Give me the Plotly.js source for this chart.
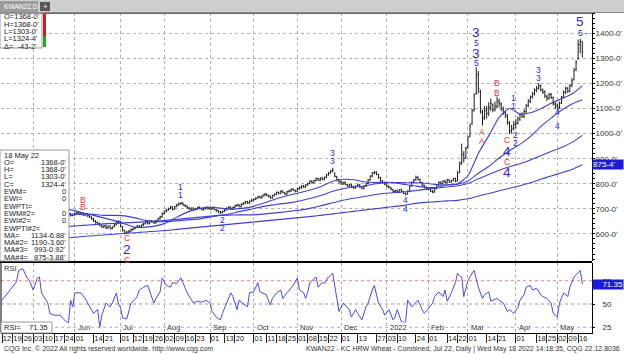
<!DOCTYPE html>
<html><head><meta charset="utf-8">
<script src="https://cdn.plot.ly/plotly-3.0.1.min.js"></script>
<style>html,body{margin:0;padding:0;background:#fff;overflow:hidden}#c{width:624px;height:354px}</style>
</head><body><div id="c"></div>
<script>
// ---------- DATA ----------
const startDate = '2021-04-12', endDate = '2022-05-18';
const holidays = ['2021-05-31','2021-07-05','2021-09-06','2021-11-25','2021-12-24','2022-01-17','2022-02-21','2022-04-15'];

const open = [
 608,613,619,626,636,643,651,647,657,665,673,683,691,703,695,
 707,713,723,737,745,739,725,715,703,691,683,695,687,673,663,667,672,665,681,674,
 677,681,685,679,683,675,681,673,667,661,651,646,641,634,627,633,624,631,621,629,637,647,
 649,629,613,603,608,611,
 617,622,627,632,627,636,641,647,641,651,649,644,653,661,669,
 681,691,696,701,707,699,709,716,721,723,715,711,704,699,703,697,701,706,701,697,701,706,
 703,699,706,697,693,687,685,691,696,703,707,699,706,713,716,709,719,723,729,724,731,
 734,739,743,749,744,753,759,754,751,744,753,759,766,761,771,764,759,769,771,779,774,
 771,781,784,791,787,796,801,811,804,813,821,814,823,817,826,836,843,851,842,828,816,
 809,799,806,797,791,796,787,784,791,796,787,781,791,801,816,831,843,846,837,824,811,804,
 799,789,784,777,769,773,767,776,769,761,759,771,791,806,816,826,817,804,794,784,
 781,777,771,767,781,796,806,799,811,804,816,807,813,821,812,846,885,920,905,
 945,990,1040,1095,1160,1235,1170,1085,1065,1090,1082,1100,1115,1098,1108,1128,1118,1098,1082,1070,1042,1012,1022,
 1038,1042,1058,1078,1068,1088,1112,1128,1147,1158,1172,1182,1192,1172,1168,1148,1142,1157,1143,1118,
 1112,1104,1122,1146,1164,1182,1168,1192,1215,1255,1300,1356,1368];
const high = [
 618,622,628,640,646,656,655,660,668,678,688,696,708,706,712,
 718,728,742,752,750,742,730,718,706,694,698,698,690,676,670,675,676,684,684,680,
 686,690,688,686,686,684,684,676,670,664,655,650,645,638,636,636,634,633,630,640,652,656,
 652,632,616,612,616,622,
 625,630,636,635,638,645,650,650,654,655,652,656,665,672,686,
 694,700,705,712,710,712,720,726,728,726,718,714,707,706,706,703,709,710,704,704,710,709,
 707,709,710,700,696,692,694,699,706,711,709,709,716,720,719,722,727,732,732,734,740,
 742,746,752,752,756,762,763,757,754,756,762,769,769,774,774,766,772,776,782,782,777,
 784,789,794,795,799,805,814,814,816,825,824,826,826,829,840,847,856,864,845,832,820,
 813,809,810,800,799,799,792,794,799,800,791,794,804,819,834,847,852,850,840,828,815,808,
 803,794,788,780,776,777,779,780,772,765,774,794,810,820,833,830,820,808,797,789,
 785,781,775,784,799,810,810,814,815,820,818,816,824,824,850,888,960,930,948,
 990,1040,1098,1160,1265,1250,1175,1095,1110,1110,1125,1140,1120,1128,1148,1140,1125,1108,1092,1078,1050,1035,1050,
 1058,1068,1082,1085,1096,1118,1138,1152,1166,1180,1190,1202,1196,1180,1172,1155,1162,1162,1148,1125,
 1120,1128,1150,1172,1188,1185,1198,1222,1262,1293,1375,1378,1368];
const low = [
 604,609,615,624,633,640,642,645,654,662,670,680,688,690,692,
 702,708,720,732,734,720,710,698,686,678,680,682,668,658,660,664,660,663,670,670,
 672,677,675,676,672,672,668,664,657,648,641,636,630,624,624,620,621,618,618,626,634,642,
 626,610,598,600,604,608,
 613,618,623,624,624,632,638,638,638,644,640,641,650,657,665,
 677,686,692,698,694,696,706,712,716,712,708,700,696,695,694,694,698,699,694,693,698,697,
 695,696,695,688,684,680,682,687,693,700,697,696,703,709,706,706,715,719,720,720,727,
 730,735,740,741,741,749,751,746,740,741,750,755,758,758,762,756,756,765,768,771,766,
 767,776,780,784,784,792,798,800,801,809,811,810,814,814,822,832,840,846,826,810,802,
 796,795,794,788,786,784,780,780,786,784,778,778,787,798,812,826,838,834,820,808,800,794,
 786,781,774,765,766,763,764,766,759,754,757,769,788,801,812,814,802,791,781,774,
 773,766,762,764,778,792,796,797,802,802,804,805,810,806,810,842,875,885,900,
 940,985,1035,1088,1155,1160,1080,1032,1055,1060,1070,1090,1085,1088,1100,1105,1090,1075,1062,1035,998,1000,1012,
 1020,1036,1050,1062,1062,1082,1105,1122,1140,1152,1165,1175,1168,1158,1142,1130,1136,1138,1112,1098,
 1092,1098,1118,1140,1158,1162,1165,1185,1212,1250,1295,1320,1303];
const close = [
 612,618,624,635,642,650,646,656,664,672,682,690,702,694,706,
 712,722,736,744,738,724,714,702,690,682,694,686,672,662,666,671,664,680,673,676,
 680,684,678,682,676,680,672,668,660,652,645,640,635,628,632,625,630,622,628,636,646,650,
 630,614,604,607,612,618,
 621,626,631,628,635,640,646,642,650,648,645,652,660,668,680,
 690,695,700,706,698,708,715,720,722,716,712,705,700,702,698,700,705,702,698,700,705,702,
 700,705,698,692,688,686,690,695,702,706,700,705,712,715,710,718,722,728,725,730,735,
 738,742,748,745,752,758,755,750,745,752,758,765,762,770,765,760,768,772,778,775,770,
 780,785,790,788,795,800,810,805,812,820,815,822,818,825,835,842,850,855,830,815,808,
 800,805,798,792,795,788,785,790,795,788,782,790,800,815,830,842,845,838,825,812,805,798,
 790,785,778,770,772,768,775,770,762,758,770,790,805,815,825,818,805,795,785,780,
 778,770,768,780,795,805,800,810,805,815,808,812,820,810,845,880,915,900,940,
 985,1030,1090,1150,1225,1180,1090,1060,1095,1080,1105,1120,1095,1110,1130,1120,1100,1085,1075,1045,1010,1020,1035,
 1040,1060,1075,1070,1090,1110,1130,1145,1160,1175,1180,1190,1175,1165,1150,1140,1155,1145,1120,1110,
 1105,1120,1145,1165,1180,1170,1190,1210,1250,1285,1355,1367.75,1324.5];

// moving averages read at every 5th trading day
const maDay = [4,9,14,19,24,29,34,39,44,49,54,59,64,69,74,79,84,89,94,99,104,109,114,119,124,129,134,139,144,149,154,159,164,169,174,179,184,189,194,199,204,209,214,219,224,229,234,239,244,249,254,259,264,269,274,279];
const maVal  = [630,640,650,660,668,674,678,680,678,674,674,672,664,654,649,649,652,656,659,666,673,679,689,697,707,714,720,725,733,743,755,770,780,787,791,799,804,805,804,804,802,796,795,798,811,842,869,903,932,957,988,1028,1062,1093,1118,1134.7];
const ma2Val = [640,650,665,677,696,701,695,683,674,664,653,640,627,627,632,645,667,687,700,706,704,699,701,706,718,732,745,756,766,777,791,810,818,816,808,805,806,803,797,791,786,786,796,800,832,921,991,1065,1100,1078,1083,1099,1121,1139,1158,1190.4];
const ma3Val = [605,610,615,620,625,628,631,634,637,640,642,644,646,648,651,654,658,662,666,670,674,675,676,676,678,682,686,691,696,704,714,724,734,742,749,756,762,765,768,773,778,783,787,792,801,820,837,854,868,880,895,912,929,945,965,993.1];
const ma4Val = [562,566,570,574,578,582,586,590,593,596,599,602,605,608,611,614,618,622,626,630,634,638,642,646,650,654,658,662,666,670,675,680,685,690,695,700,705,710,715,722,726,729,732,734,740,751,761,772,782,792,804,818,831,844,857,875.4];

// RSI
const rsiDay = [0,4,7,8,10,11,12,13,15,17,18,19,22,23,25,28,29,31,32,33,34,35,38,40,44,46,47,48,50,52,53,55,56,57,58,60,62,64,65,66,68,70,71,73,74,76,77,79,81,82,84,86,87,89,92,94,96,98,100,101,103,105,106,108,110,111,113,114,116,118,119,121,123,124,127,129,130,132,134,135,137,139,140,142,143,145,146,147,148,149,151,152,154,155,157,159,160,161,162,164,165,167,168,170,171,173,175,176,178,179,181,183,184,186,188,189,190,192,194,195,197,199,200,202,203,205,207,208,210,212,213,214,216,218,219,220,221,222,223,224,226,227,229,231,232,234,235,236,238,239,241,243,244,246,248,249,251,252,254,255,257,259,260,262,264,265,267,268,270,272,273,275,276,278,279];
const rsiVal = [54,65,74,86,88,83,78,76,65,78,79,62,51,40,38,38,35,31,30,54,47,62,62,56,40,44,25,38,51,47,51,62,50,46,35,34,51,55,58,65,68,70,63,51,56,63,78,70,68,73,72,78,73,62,51,53,52,54,51,42,36,33,40,51,62,58,44,54,50,47,62,63,73,63,60,49,56,62,65,56,62,67,70,78,65,62,56,63,73,75,79,68,73,72,79,83,68,58,42,51,49,44,36,44,40,33,47,51,65,70,51,44,38,44,33,36,44,31,30,54,47,51,54,44,40,45,51,58,63,58,65,53,62,73,83,80,79,58,67,75,83,86,68,56,60,63,53,54,56,54,51,42,44,40,46,54,60,68,70,65,67,60,58,56,51,40,36,51,62,58,68,79,81,86,71.35];

// bottom date axis labels
const tickDates = ['2021-04-12','2021-04-19','2021-04-26','2021-05-03','2021-05-10','2021-05-17','2021-05-24','2021-06-01','2021-06-14','2021-06-21','2021-07-01','2021-07-12','2021-07-19','2021-07-26','2021-08-02','2021-08-09','2021-08-16','2021-08-23','2021-09-01','2021-09-13','2021-09-20','2021-10-01','2021-10-11','2021-10-18','2021-10-25','2021-11-01','2021-11-08','2021-11-15','2021-11-22','2021-12-01','2021-12-13','2021-12-27','2022-01-03','2022-01-10','2022-01-24','2022-02-01','2022-02-14','2022-02-22','2022-03-01','2022-03-14','2022-03-21','2022-04-01','2022-04-18','2022-04-25','2022-05-02','2022-05-09','2022-05-16'];
const tickLabels = ['12','19','26','03','10','17','24','01','14','21','01','12','19','26','02','09','16','23','01','13','20','01','11','18','25','01','08','15','22','01','13','27','03','10','24','01','14','22','01','14','21','01','18','25','02','09','16'];
const monthKeys = ['2021-06','2021-07','2021-08','2021-09','2021-10','2021-11','2021-12','2022-01','2022-02','2022-03','2022-04','2022-05'];
const monthLabels = ['Jun','Jul','Aug','Sep','Oct','Nov','Dec','2022','Feb','Mar','Apr','May'];

// Elliott wave labels (day index, price)
const waveText  = ['B','B','C','2','C','1','1','2','2','3','3','4','4','3','5','3','5','A','A','B','B','1','1','C','4','C','4','2','2','3','3','4','4','5','5','-'];
const waveDay   = [39,39,60,60,60,86,86,106,106,159,159,194,194,228,228,228,228,231,231,238,238,246,246,243,243,243,243,247,247,258,258,267,267,278,278,281];
const wavePrice = [735,708,584,536,496,788,756,656,624,923,891,735,699,1403,1360,1320,1280,1006,971,1202,1162,1142,1110,976,928,886,844,994,963,1254,1222,1086,1030,1447,1400,1401];

// info boxes
const topBoxLines = ["O=1368-0'","H=1368-0'","L=1303-0'","L=1324-4'","\u0394=  -43-2'"];
const lowBoxLabels = ['18 May 22','O=','H=','L=','C=','EWM=','EWI=','EWPTI=','EWM#2=','EWI#2=','EWPTI#2=','MA=','MA#2=','MA#3=','MA#4='];
const lowBoxValues = ['',"1368-0'","1368-0'","1303-0'","1324-4'",'0','0','','0','0','',"1134-6.88'","1190-3.60'","993-0.92'","875-3.88'"];
const priceTicks = [600,700,800,900,1000,1100,1200,1300,1400];
const rsiTicks = [25,50,75];

// ---------- BUILD ----------
const days = [];
(function(){let d=new Date(startDate+'T00:00:00Z');const e=new Date(endDate+'T00:00:00Z');
 while(d<=e){const w=d.getUTCDay();const s=d.toISOString().slice(0,10);
  if(w>0&&w<6&&holidays.indexOf(s)<0)days.push(s);d.setUTCDate(d.getUTCDate()+1);} })();
const idx = days.map((_,i)=>i);
const dayIndex = s => days.indexOf(s);
const monthStart = [];
days.forEach((d,i)=>{ if(i===0||d.slice(0,7)!==days[i-1].slice(0,7)) monthStart.push(i); });
const monthLabelIdx = monthKeys.map(k=>days.findIndex(d=>d.slice(0,7)===k));

const W=624,H=354,ML=1,MR=32,MT=13,MB=21,PW=W-ML-MR,PH=H-MT-MB;
const PX=x=>(x-ML)/PW, PY=y=>(H-MB-y)/PH;
const FONT='Liberation Sans, Arial, sans-serif';
const RED='#e03a3a';
const XR=[-0.48,283.65];

const maTrace=(vals)=>({type:'scatter',mode:'lines',x:maDay,y:vals,xaxis:'x',yaxis:'y',
  line:{color:'#4040d4',width:1.1,shape:'spline',smoothing:0.6},hoverinfo:'skip'});

const traces=[
 maTrace(ma4Val),maTrace(ma3Val),maTrace(maVal),maTrace(ma2Val),
 {type:'ohlc',x:idx,open:open,high:high,low:low,close:close,xaxis:'x',yaxis:'y',
  increasing:{line:{color:'#1e1e1e',width:1}},decreasing:{line:{color:'#1e1e1e',width:1}},
  tickwidth:0.45,hoverinfo:'skip'},
 {type:'scatter',mode:'lines',x:rsiDay,y:rsiVal,xaxis:'x2',yaxis:'y2',
  line:{color:'#4a4ae6',width:1},hoverinfo:'skip'}
];

const shapes=[];
const rect=(x0,y0,x1,y1,fill,lc,lw)=>shapes.push({type:'rect',xref:'paper',yref:'paper',
  x0:PX(x0),x1:PX(x1),y0:PY(y1),y1:PY(y0),fillcolor:fill,line:{color:lc||fill,width:lw||0},layer:'above'});
const hline=(x0,x1,y,c,w)=>shapes.push({type:'line',xref:'paper',yref:'paper',x0:PX(x0),x1:PX(x1),y0:PY(y),y1:PY(y),line:{color:c,width:w},layer:'above'});
// RSI levels
shapes.push({type:'line',xref:'paper',yref:'y2',x0:0,x1:1,y0:75,y1:75,line:{color:'#f08080',width:1,dash:'dot'},layer:'below'});
shapes.push({type:'line',xref:'paper',yref:'y2',x0:0,x1:1,y0:50,y1:50,line:{color:'#999',width:1,dash:'dot'},layer:'below'});
shapes.push({type:'line',xref:'paper',yref:'y2',x0:0,x1:1,y0:25,y1:25,line:{color:'#a8a8ee',width:1,dash:'dot'},layer:'below'});
// tab bar
rect(0,0,624,12,'#cfcfcf');
rect(0,1,38,12,'#9c9c9c');
rect(40,2,50,11,'#585858');
hline(0,624,12.5,'#8a8a8a',1);
hline(0,592,13.5,'#666',1);
// panel separator
hline(0,592,262,'#000',2);
shapes.push({type:'line',xref:'paper',yref:'paper',x0:PX(1),x1:PX(1),y0:PY(333),y1:PY(263),line:{color:'#000',width:1},layer:'above'});
// info boxes
rect(0,13.5,42,48,'#fff','#9a9a9a',1);
rect(43,14,46,36,'#c82020');
rect(43,36,46,47,'#20a820');
rect(0,150,69,261,'#fff','#9a9a9a',1);
rect(1,322,52,333,'#fff','#9a9a9a',1);

const ann=[];
const txt=(x,y,t,o)=>ann.push(Object.assign({xref:'paper',yref:'paper',x:PX(x),y:PY(y),text:t,showarrow:false,
  xanchor:'left',yanchor:'middle',font:{family:FONT,size:7.5,color:'#222'}},o||{}));
txt(2,6.5,'KWAN22,D',{font:{family:FONT,size:6.6,color:'#fff'}});
txt(45,6.5,'+',{xanchor:'center',font:{family:FONT,size:8,color:'#fff'}});
topBoxLines.forEach((t,i)=>txt(1.5,17+i*7.3,t));
lowBoxLabels.forEach((t,i)=>txt(1.5,155+i*7.3,t));
lowBoxValues.forEach((t,i)=>{ if(t) txt(67.5,155+i*7.3,t,{xanchor:'right'}); });
txt(2,268,'RSI',{font:{family:FONT,size:7.5,color:'#333'}});
txt(2,327.5,'RSI=');
txt(50,327.5,String(rsiVal[rsiVal.length-1]),{xanchor:'right'});
txt(2,349,'CQG Inc. \u00a9 2022 All rights reserved worldwide. http://www.cqg.com',{font:{family:FONT,size:7,color:'#333'}});
txt(622,349,'KWAN22 - KC HRW Wheat - Combined, Jul 22, Daily | Wed May 18 2022 14:18:35, CQG 22.12.8036',{xanchor:'right',font:{family:FONT,size:7,color:'#333'}});
// month labels
monthLabelIdx.forEach((m,i)=>ann.push({xref:'x2',yref:'y2',x:m+0.9,y:25.3,text:monthLabels[i],showarrow:false,
  xanchor:'left',yanchor:'middle',bgcolor:'#fff',borderpad:0,font:{family:FONT,size:7.5,color:'#333'}}));
// wave labels
const bigSet=[3,13,15,24,26,33];
waveText.forEach((t,i)=>{
  const big=bigSet.indexOf(i)>=0;
  const red='ABCc'.indexOf(t)>=0;
  ann.push({xref:'x',yref:'y',x:waveDay[i],y:wavePrice[i],text:t,showarrow:false,xanchor:'center',yanchor:'middle',
    font:{family:FONT,size:big?13.5:8.5,color:red?RED:'#2a2ad0'}});
});
// value tags on right axis
ann.push({xref:'paper',yref:'y',x:1.0,y:ma4Val[ma4Val.length-1],text:"875-4'",showarrow:false,xanchor:'left',yanchor:'middle',
  bgcolor:'#1c1cd8',width:30,align:'left',borderpad:0,font:{family:FONT,size:8,color:'#fff'}});
ann.push({xref:'paper',yref:'y2',x:1.0,y:rsiVal[rsiVal.length-1],text:'71.35',showarrow:false,xanchor:'left',yanchor:'middle',
  bgcolor:'#1c1cd8',width:30,align:'right',borderpad:0,font:{family:FONT,size:8,color:'#fff'}});

const layout={
 width:W,height:H,margin:{l:ML,r:MR,t:MT,b:MB,pad:0},paper_bgcolor:'#fff',plot_bgcolor:'#fff',
 showlegend:false,font:{family:FONT,size:8,color:'#333'},
 xaxis:{domain:[0,1],anchor:'y',range:XR,tickmode:'array',tickvals:monthStart,showticklabels:false,ticks:'',
   showgrid:true,gridcolor:'#b0b0b0',griddash:'dot',gridwidth:1,zeroline:false,showline:false,rangeslider:{visible:false},fixedrange:true},
 xaxis2:{domain:[0,1],anchor:'y2',range:XR,tickmode:'array',tickvals:tickDates.map(dayIndex),ticktext:tickLabels,
   tickangle:0,ticks:'outside',ticklen:9,tickcolor:'#222',tickwidth:1,ticklabelshift:5,ticklabelstandoff:-11,
   tickfont:{family:FONT,size:7.5,color:'#222'},showgrid:false,zeroline:false,showline:true,linecolor:'#000',linewidth:1,
   minor:{tickmode:'array',tickvals:monthStart,showgrid:true,gridcolor:'#b0b0b0',griddash:'dot',gridwidth:1,ticks:''},fixedrange:true},
 yaxis:{domain:[0.225,1],anchor:'x',side:'right',range:[492.1,1480.9],tickmode:'array',tickvals:priceTicks,
   ticktext:priceTicks.map(v=>v+"-0'"),ticks:'outside',ticklen:2,tickcolor:'#000',ticklabelstandoff:-1,
   tickfont:{family:FONT,size:8,color:'#333'},showgrid:true,gridcolor:'#b0b0b0',griddash:'dot',gridwidth:1,
   zeroline:false,showline:true,linecolor:'#000',linewidth:1,
   minor:{dtick:20,ticks:'outside',ticklen:2,tickcolor:'#000',showgrid:false},fixedrange:true},
 yaxis2:{domain:[0,0.21875],anchor:'x2',side:'right',range:[18.9,94.0],tickmode:'array',tickvals:rsiTicks,
   ticks:'outside',ticklen:2,tickcolor:'#000',ticklabelstandoff:6,tickfont:{family:FONT,size:8,color:'#333'},
   showgrid:false,zeroline:false,showline:true,linecolor:'#000',linewidth:1,fixedrange:true},
 shapes:shapes,annotations:ann
};
Plotly.newPlot('c',traces,layout,{staticPlot:true,displayModeBar:false});
</script></body></html>
